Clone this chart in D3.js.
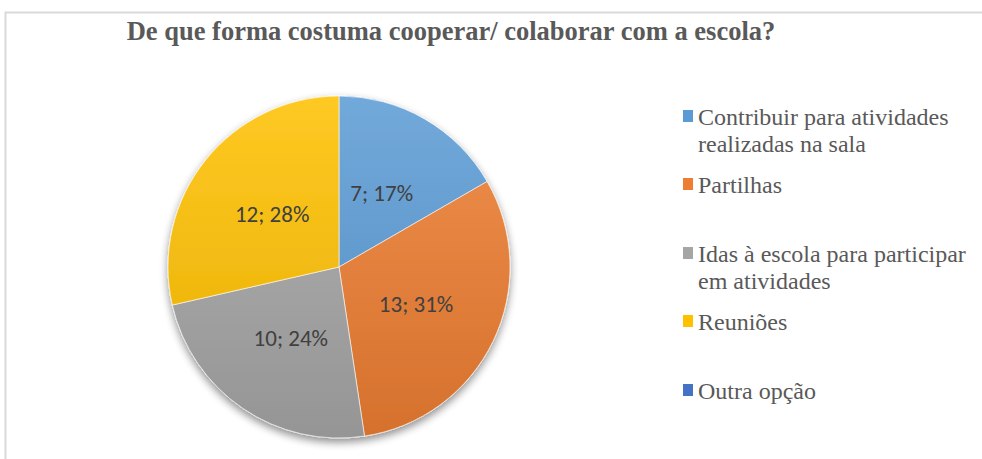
<!DOCTYPE html>
<html>
<head>
<meta charset="utf-8">
<script src="https://cdn.jsdelivr.net/npm/d3@7"></script>
<style>
  body { margin: 0; background: #fff; }
</style>
</head>
<body>
<svg width="982" height="459"></svg>
<script>
var categories = ["Contribuir para atividades realizadas na sala", "Partilhas",
                  "Idas à escola para participar em atividades", "Reuniões", "Outra opção"];
var legendLines = [["Contribuir para atividades", "realizadas na sala"], ["Partilhas"],
                   ["Idas à escola para participar", "em atividades"], ["Reuniões"], ["Outra opção"]];
var values = [7, 13, 10, 12, 0];
var percents = [17, 31, 24, 28, 0];   // as printed on the chart
var colors = ["#5b9bd5", "#ed7d31", "#a5a5a5", "#ffc000", "#4472c4"];
var title = "De que forma costuma cooperar/ colaborar com a escola?";

var svg = d3.select("svg"),
    cx = 339, cy = 267, radius = 171;

// frame
svg.append("path")
    .attr("d", "M5.5,459 L5.5,12.5 L982,12.5")
    .style("fill", "none").style("stroke", "#d9d9d9").style("stroke-width", "2px");

svg.append("text")
    .attr("x", 451).attr("y", 40)
    .style("font-family", "'Liberation Serif', 'Times New Roman', serif")
    .style("font-weight", "bold").style("font-size", "26.5px")
    .style("fill", "#595959").style("text-anchor", "middle")
    .text(title);

var defs = svg.append("defs");
var shadow = defs.append("filter").attr("id", "shadow")
    .attr("x", "-20%").attr("y", "-20%").attr("width", "140%").attr("height", "140%");
shadow.append("feGaussianBlur").attr("in", "SourceAlpha").attr("stdDeviation", 4);
shadow.append("feOffset").attr("dy", 4).attr("result", "b");
shadow.append("feComponentTransfer").append("feFuncA").attr("type", "linear").attr("slope", 0.45);
var merge = shadow.append("feMerge");
merge.append("feMergeNode");
merge.append("feMergeNode").attr("in", "SourceGraphic");

// office-style gradient: lighter at top, darker at bottom
colors.forEach(function(c, i) {
  var g = defs.append("linearGradient").attr("id", "grad" + i)
      .attr("gradientUnits", "userSpaceOnUse")
      .attr("x1", 0).attr("y1", -radius).attr("x2", 0).attr("y2", radius);
  g.append("stop").attr("offset", "0%").attr("stop-color", d3.interpolateRgb(c, "#fff")(0.14));
  g.append("stop").attr("offset", "100%").attr("stop-color", d3.interpolateRgb(c, "#000")(0.1));
});

var pie = d3.pie().sort(null).value(function(d) { return d; });
var arcs = pie(values);
var arc = d3.arc().innerRadius(0).outerRadius(radius);
var labelArc = d3.arc().innerRadius(radius * 0.5).outerRadius(radius * 0.5);

var pieG = svg.append("g").attr("transform", "translate(" + cx + "," + cy + ")");
var slices = pieG.append("g").attr("filter", "url(#shadow)");
slices.selectAll("path")
    .data(arcs.filter(function(d) { return d.value > 0; }))
    .enter().append("path")
      .attr("d", arc)
      .style("fill", function(d) { return "url(#grad" + d.index + ")"; })
      .style("stroke", "#fff").style("stroke-width", "0.6px");

pieG.selectAll("text.label")
    .data(arcs.filter(function(d) { return d.value > 0; }))
    .enter().append("text")
      .attr("class", "label")
      .attr("transform", function(d) { return "translate(" + labelArc.centroid(d) + ")"; })
      .attr("dy", "0.35em")
      .style("font-family", "Carlito, Calibri, 'Liberation Sans', sans-serif")
      .style("font-size", "23px").style("fill", "#404040").style("text-anchor", "middle")
      .text(function(d) { return d.value + "; " + percents[d.index] + "%"; });

// legend
var legendY = [125, 193, 262, 330, 399];
var legend = svg.append("g").selectAll("g")
    .data(categories)
    .enter().append("g")
      .attr("transform", function(d, i) { return "translate(683," + legendY[i] + ")"; });
legend.append("rect")
    .attr("x", 0).attr("y", -15).attr("width", 10).attr("height", 12)
    .style("fill", function(d, i) { return colors[i]; });
legend.append("text")
    .style("font-family", "'Liberation Serif', 'Times New Roman', serif")
    .style("font-size", "24px").style("fill", "#595959")
    .selectAll("tspan")
    .data(function(d, i) { return legendLines[i]; })
    .enter().append("tspan")
      .attr("x", 15)
      .attr("y", function(d, j) { return j * 27; })
      .text(function(d) { return d; });
</script>
</body>
</html>
